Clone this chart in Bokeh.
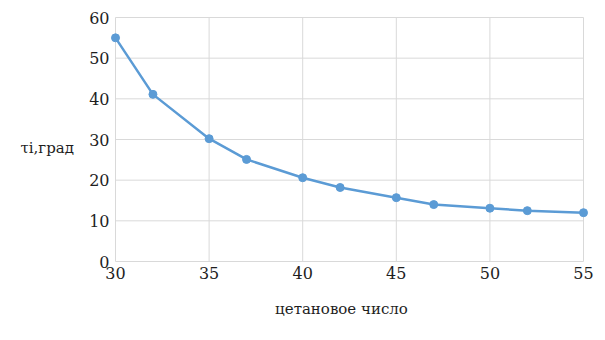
from bokeh.plotting import figure
from bokeh.models import Range1d
from bokeh.core.properties import value
from bokeh.embed import file_html
from bokeh.resources import INLINE

cetane = [30, 32, 35, 37, 40, 42, 45, 47, 50, 52, 55]
tau = [55.0, 41.1, 30.2, 25.1, 20.6, 18.2, 15.7, 14.0, 13.1, 12.5, 12.0]
x_ticks = [30, 35, 40, 45, 50, 55]
y_ticks = [0, 10, 20, 30, 40, 50, 60]
x_title = "цетановое число"
y_title = "τі,град"

FONT = value("DejaVu Serif")
COLOR = "#5b9bd5"
GRID = "#d9d9d9"
TXT = "#1e1e1e"

W, H = 605, 340
# plot-area placement in pixels (left, right, top, bottom)
FL, FR, FT, FB = 115, 583, 17, 261
x0, x1 = min(x_ticks), max(x_ticks)
y0, y1 = min(y_ticks), max(y_ticks)
sx = (FR - FL) / (x1 - x0)
sy = (FB - FT) / (y1 - y0)

p = figure(width=W, height=H, output_backend="svg", toolbar_location=None,
           x_range=Range1d(x0 - FL / sx, x1 + (W - FR) / sx),
           y_range=Range1d(y0 - (H - FB) / sy, y1 + FT / sy),
           min_border=0)
p.axis.visible = False
p.grid.visible = False
p.outline_line_color = None
p.background_fill_color = "white"
p.border_fill_color = "white"

# grid lines
p.segment(x0=x_ticks, y0=[y0] * len(x_ticks), x1=x_ticks, y1=[y1] * len(x_ticks),
          line_color=GRID, line_width=1)
p.segment(x0=[x0] * len(y_ticks), y0=y_ticks, x1=[x1] * len(y_ticks), y1=y_ticks,
          line_color=GRID, line_width=1)

# tick labels
p.text(x=x_ticks, y=[y0] * len(x_ticks), text=[str(t) for t in x_ticks],
       text_font=FONT, text_font_size="16px", text_color=TXT,
       text_align="center", text_baseline="middle", y_offset=11)
p.text(x=[x0] * len(y_ticks), y=y_ticks, text=[str(t) for t in y_ticks],
       text_font=FONT, text_font_size="16px", text_color=TXT,
       text_align="right", text_baseline="middle", x_offset=-6)

# axis titles
p.text(x=[x0 + (341 - FL) / sx], y=[y0], text=[x_title],
       text_font=FONT, text_font_size="15px", text_color=TXT,
       text_align="center", text_baseline="middle", y_offset=47)
p.text(x=[x0 - (FL - 20) / sx], y=[(FB - 147) / sy], text=[y_title],
       text_font=FONT, text_font_size="15px", text_color=TXT,
       text_align="left", text_baseline="middle")

# data
p.line(cetane, tau, line_color=COLOR, line_width=2.5)
p.scatter(cetane, tau, size=8, fill_color=COLOR, line_color=COLOR)

open("out.html", "w").write(file_html(p, INLINE))
